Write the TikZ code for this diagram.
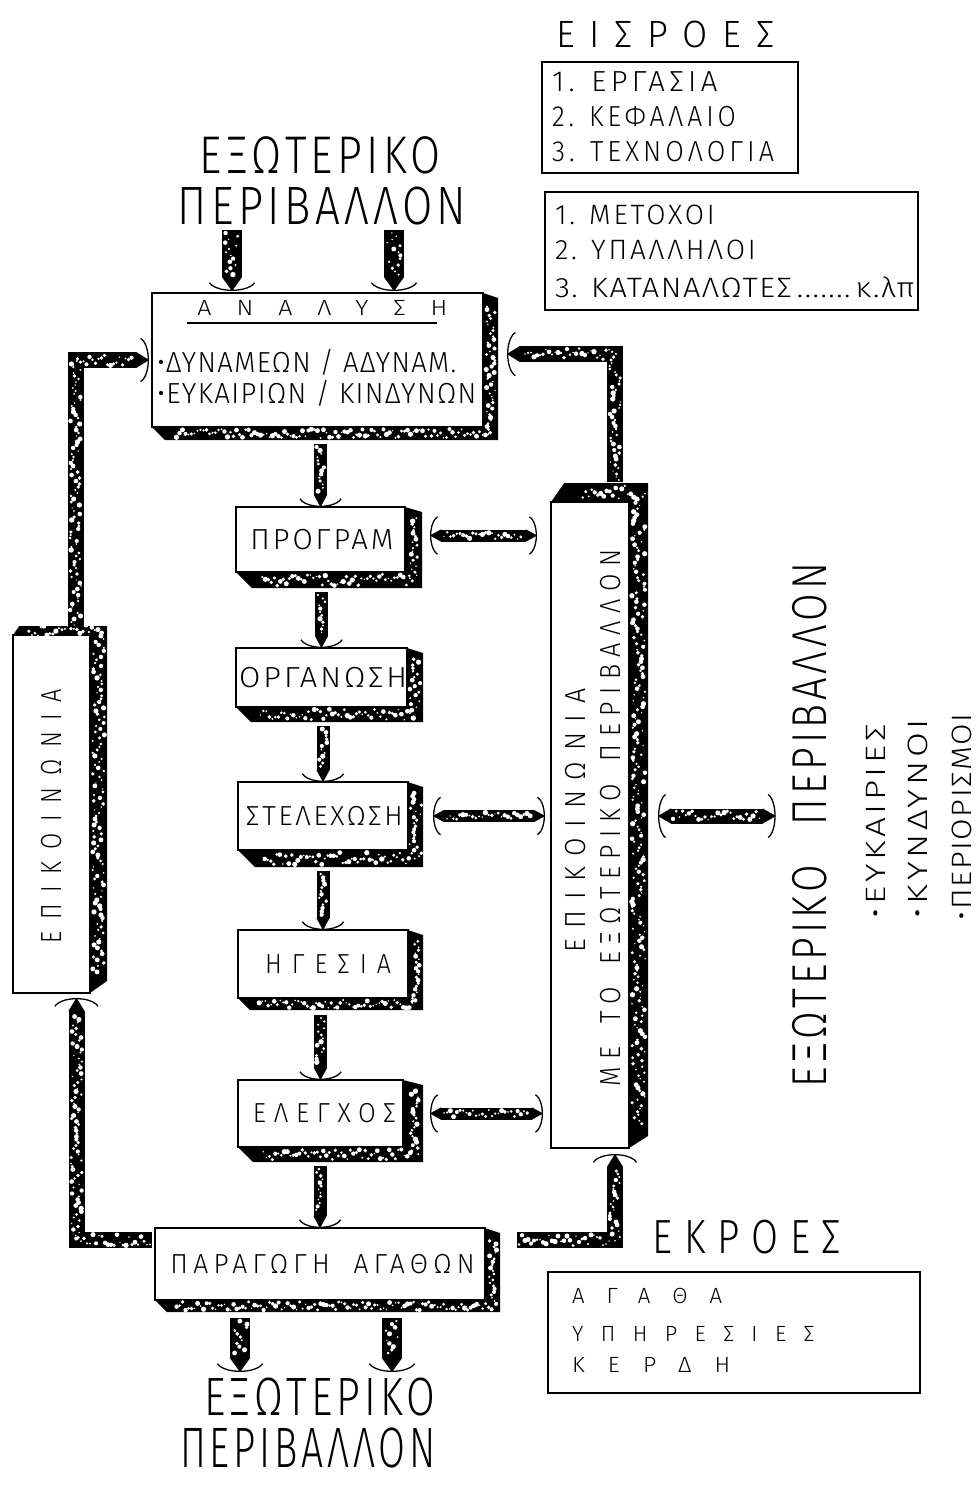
\documentclass[tikz,border=0pt]{standalone}
\usepackage{fontspec}
\setmainfont{Fira Sans Light}
\usepackage{graphicx}
\usetikzlibrary{arrows.meta,decorations.markings,calc}

% text: size, target width, letter spacing, text
\newcommand\T[4]{\resizebox{#2pt}{\height}{\fontsize{#1}{#1}\selectfont\addfontfeature{LetterSpace=#3}#4\kern-\fpeval{#3/100}em}}
\newcommand\ws{\hspace{0.9em}}

\tikzset{
  box/.style={draw=black, line width=1.1pt, fill=white, inner sep=0pt, outer sep=0pt},
  txt/.style={inner sep=0pt, outer sep=0pt},
  gravel/.style n args={4}{decoration={markings, mark=between positions #3 and #4 step #1 with {\fill[white] (0pt,{(rnd-0.5)*(#2)}) circle[radius={0.7pt+rnd*2pt}];}}, decorate},
  wings/.style={draw, line width=1.3pt, -{Arc Barb[width=#1, length=11pt, arc=150]}},
  dwings/.style={draw, line width=1.3pt, {Arc Barb[width=#1, length=10pt, arc=150]}-{Arc Barb[width=#1, length=10pt, arc=150]}},
  flow/.style={line width=13pt, -{Triangle[width=13pt, length=12pt, line width=0.01pt 0]}, postaction={wings=44pt}, postaction={gravel={3.4pt}{8pt}{3pt}{-15pt}}},
  bigflow/.style={line width=20pt, -{Triangle[width=20pt, length=14pt, line width=0.01pt 0]}, postaction={wings=48pt}, postaction={gravel={3.2pt}{14pt}{3pt}{-16pt}}},
  loopflow/.style={line width=16pt, -{Triangle[width=16pt, length=13pt, line width=0.01pt 0]}, postaction={wings=46pt}, postaction={gravel={3pt}{11pt}{2pt}{-16pt}}},
  dblflow/.style={line width=12pt, {Triangle[width=12pt, length=11pt, line width=0.01pt 0]}-{Triangle[width=12pt, length=11pt, line width=0.01pt 0]}, postaction={dwings=40pt}, postaction={gravel={3.2pt}{7pt}{14pt}{-14pt}}},
  bigdbl/.style={line width=15pt, {Triangle[width=15pt, length=13pt, line width=0.01pt 0]}-{Triangle[width=15pt, length=13pt, line width=0.01pt 0]}, postaction={dwings=46pt}, postaction={gravel={3.2pt}{10pt}{15pt}{-15pt}}},
}

% shadow right+bottom: node, right band, bottom band
\newcommand\shRB[3]{%
  \fill[black] (#1.north east) -- ++(#2,5) -- ($(#1.south east)+(#2,#3)$) -- ($(#1.south west)+(#3,#3)$) -- (#1.south west) -- (#1.south east) -- cycle;
  \path[gravel={3pt}{#3*0.7pt}{0.01}{0.99}] ($(#1.north east)+(#2/2,9)$) -- ($(#1.south east)+(#2/2,#3/2)$) -- ($(#1.south west)+(#3*1.4,#3/2)$);
}
% shadow top+right: node, right band, top band
\newcommand\shTR[3]{%
  \fill[black] (#1.south east) -- ++(#2,-12) -- ($(#1.north east)+(#2,-#3)$) -- ($(#1.north west)+(#3*0.7,-#3)$) -- (#1.north west) -- (#1.north east) -- cycle;
  \path[gravel={3pt}{#2*0.7pt}{0.01}{0.99}] ($(#1.north west)+(#3*1.3,-#3/2)$) -- ($(#1.north east)+(#2/2,-#3/2)$) -- ($(#1.south east)+(#2/2,-15)$);
}

\begin{document}
\begin{tikzpicture}[x=1pt, y=-1pt]
\pgfmathsetseed{7}
\useasboundingbox (0,0) rectangle (978,1485);
\fill[white] (0,0) rectangle (978,1485);

% ---------- inputs (top right)
\node[txt] (eis) at (658,34) {\T{38}{203}{40}{ΕΙΣΡΟΕΣ}};
\node[box, minimum width=256pt, minimum height=111pt] (in1) at (670,117.5) {};
\node[txt, anchor=west] (in1a) at (552,82) {\T{29}{161}{15}{1. ΕΡΓΑΣΙΑ}};
\node[txt, anchor=west] (in1b) at (552,117) {\T{29}{180}{15}{2. ΚΕΦΑΛΑΙΟ}};
\node[txt, anchor=west] (in1c) at (552,152) {\T{29}{218}{15}{3. ΤΕΧΝΟΛΟΓΙΑ}};
\node[box, minimum width=373pt, minimum height=118pt] (in2) at (731.5,251) {};
\node[txt, anchor=west] (in2a) at (555,215) {\T{28}{157}{10}{1. ΜΕΤΟΧΟΙ}};
\node[txt, anchor=west] (in2b) at (555,250) {\T{28}{198}{10}{2. ΥΠΑΛΛΗΛΟΙ}};
\node[txt, anchor=west] (in2c) at (555,287) {\T{28}{358}{5}{3. ΚΑΤΑΝΑΛΩΤΕΣ\,.......\,κ.λπ}};

% ---------- external environment (top)
\node[txt] (et1) at (318,155) {\T{53}{237}{10}{ΕΞΩΤΕΡΙΚΟ}};
\node[txt] (et2) at (320,206) {\T{54}{284}{10}{ΠΕΡΙΒΑΛΛΟΝ}};

% ---------- analysis
\node[box, minimum width=331pt, minimum height=134pt] (anal) at (317.5,360) {};
\node[txt] (analt) at (310,308) {\T{22}{225}{100}{ΑΝΑΛΥΣΗ}};
\draw[line width=1.1pt] ($(anal.north west)+(35,30)$) -- ($(anal.north west)+(285,30)$);
\node[txt, anchor=west] (analb) at (157,362) {\T{29}{298}{5}{•ΔΥΝΑΜΕΩΝ / ΑΔΥΝΑΜ.}};
\node[txt, anchor=west] (analc) at (157,393) {\T{29}{318}{5}{•ΕΥΚΑΙΡΙΩΝ / ΚΙΝΔΥΝΩΝ}};
\shRB{anal}{15}{13}

% ---------- middle chain
\node[box, minimum width=169pt, minimum height=65pt] (prog) at (320.5,539.5) {\T{29}{140}{10}{ΠΡΟΓΡΑΜ}};
\node[box, minimum width=171pt, minimum height=59pt] (org) at (321.5,677.5) {\T{29}{165}{10}{ΟΡΓΑΝΩΣΗ}};
\node[box, minimum width=170pt, minimum height=68pt] (stel) at (323,816) {\T{27.5}{154}{10}{ΣΤΕΛΕΧΩΣΗ}};
\node[box, minimum width=170pt, minimum height=68pt] (heg) at (323,964) {\T{27.5}{116}{40}{ΗΓΕΣΙΑ}};
\node[box, minimum width=165pt, minimum height=67pt] (eleg) at (320.5,1113.5) {\T{27.5}{135}{30}{ΕΛΕΓΧΟΣ}};
\node[box, minimum width=330pt, minimum height=72pt] (par) at (320,1264) {\T{27.5}{299}{20}{ΠΑΡΑΓΩΓΗ\ws ΑΓΑΘΩΝ}};
\shRB{prog}{17}{16}
\shRB{org}{16}{15}
\shRB{stel}{15}{17}
\shRB{heg}{15}{12}
\shRB{eleg}{20}{15}
\shRB{par}{15}{12}

% ---------- communication boxes
\node[box, minimum width=77pt, minimum height=358pt] (lc) at (51.5,814) {};
\node[txt, rotate=90] (lct) at (52,822) {\T{29}{243}{50}{ΕΠΙΚΟΙΝΩΝΙΑ}};
\shTR{lc}{17}{9}
\node[box, minimum width=78pt, minimum height=646pt] (rc) at (590,825) {};
\node[txt, rotate=90] (rct1) at (576,826) {\T{29}{253}{40}{ΕΠΙΚΟΙΝΩΝΙΑ}};
\node[txt, rotate=90] (rct2) at (611,822) {\T{29}{529}{30}{ΜΕ\ws ΤΟ\ws ΕΞΩΤΕΡΙΚΟ\ws ΠΕΡΙΒΑΛΛΟΝ}};
\shTR{rc}{19}{19}

% ---------- external environment (right)
\node[txt, rotate=90] (ext) at (810,827) {\T{49}{520}{10}{ΕΞΩΤΕΡΙΚΟ\quad ΠΕΡΙΒΑΛΛΟΝ}};
\node[txt, rotate=90, anchor=west] (b1) at (876,918) {\T{28}{190}{10}{•ΕΥΚΑΙΡΙΕΣ}};
\node[txt, rotate=90, anchor=west] (b2) at (918,918) {\T{28}{195}{10}{•ΚΥΝΔΥΝΟΙ}};
\node[txt, rotate=90, anchor=west] (b3) at (962,920) {\T{28}{205}{5}{•ΠΕΡΙΟΡΙΣΜΟΙ}};

% ---------- outputs
\node[txt] (ekr) at (741,1237) {\T{48}{177}{30}{ΕΚΡΟΕΣ}};
\node[box, minimum width=372pt, minimum height=121pt] (out) at (734,1332.5) {};
\node[txt, anchor=west] (o1) at (572,1296) {\T{22}{128}{100}{ΑΓΑΘΑ}};
\node[txt, anchor=west] (o2) at (572,1334) {\T{22}{225}{80}{ΥΠΗΡΕΣΙΕΣ}};
\node[txt, anchor=west] (o3) at (572,1365) {\T{22}{135}{100}{ΚΕΡΔΗ}};

% ---------- external environment (bottom)
\node[txt] (eb1) at (318,1397) {\T{54}{227}{10}{ΕΞΩΤΕΡΙΚΟ}};
\node[txt] (eb2) at (306,1448) {\T{57}{252}{10}{ΠΕΡΙΒΑΛΛΟΝ}};

% ---------- arrows
\draw[bigflow] ($(anal.north west)+(80,-63)$) -- ($(anal.north west)+(80,-2)$);
\draw[bigflow] ($(anal.north west)+(242,-63)$) -- ($(anal.north west)+(242,-2)$);

\draw[flow] ($(anal.south -| prog.north)+(0,17)$) -- (prog.north);
\draw[flow] ($(prog.south -| org.north)+(0,20)$) -- (org.north);
\draw[flow] ($(org.south -| stel.north)+(0,19)$) -- (stel.north);
\draw[flow] ($(stel.south -| heg.north)+(0,21)$) -- (heg.north);
\draw[flow] ($(heg.south -| eleg.north)+(0,17)$) -- (eleg.north);
\draw[flow] ($(eleg.south -| par.north)+(0,19)$) -- (par.north);

\draw[loopflow] ($(par.west)+(-3,-24)$) -| ($(lc.south)+(25,5)$);
\draw[loopflow] ($(lc.north)+(24,-8)$) |- ($(anal.west)+(-3,0)$);
\draw[loopflow] ($(rc.north)+(25,-20)$) |- ($(anal.east)+(24,-6)$);
\draw[loopflow] ($(par.east)+(32,-24)$) -| ($(rc.south)+(25,6)$);

\draw[dblflow] ($(prog.east)+(25,-4)$) -- ($(prog.east -| rc.west)+(-14,-4)$);
\draw[dblflow] ($(stel.east)+(25,0)$) -- ($(stel.east -| rc.west)+(-6,0)$);
\draw[dblflow] ($(eleg.east)+(27,0)$) -- ($(eleg.east -| rc.west)+(-8,0)$);
\draw[bigdbl] ($(stel.east -| rc.east)+(29,0)$) -- ($(stel.east -| ext.north)+(-17,0)$);

\draw[bigflow] ($(par.south west)+(85,18)$) -- ($(par.south west)+(85,72)$);
\draw[bigflow] ($(par.south west)+(237,18)$) -- ($(par.south west)+(237,72)$);
\end{tikzpicture}
\end{document}
